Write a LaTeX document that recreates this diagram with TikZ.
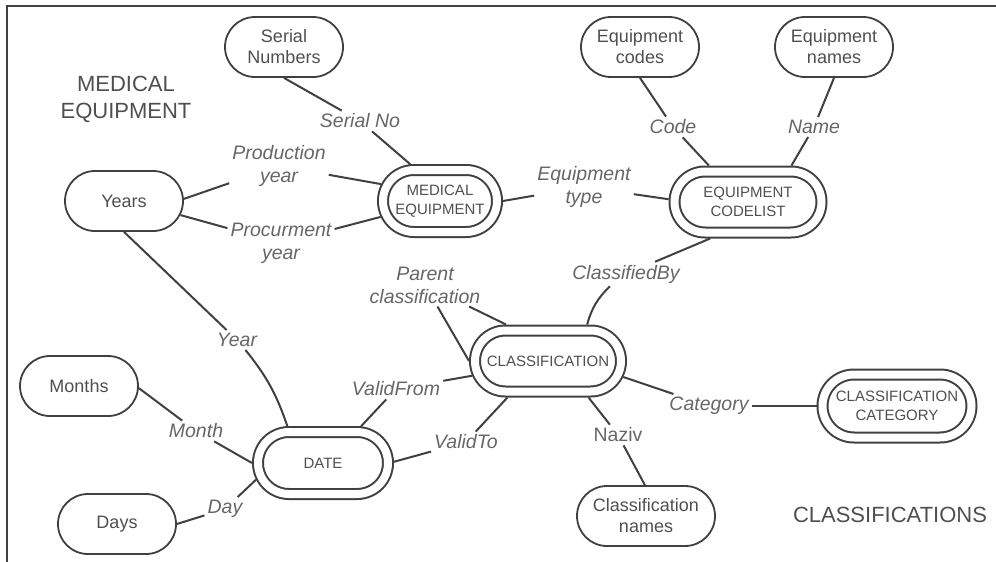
\documentclass[tikz,border=0pt]{standalone}
\usepackage{fontspec}
\setmainfont{Liberation Sans}
\usetikzlibrary{shapes.misc}

\definecolor{ink}{HTML}{404040}
\definecolor{txt}{HTML}{4F4F4F}
\definecolor{lbl}{HTML}{666666}

% a line of text that takes no width, so the node size comes from its minimum width
\newcommand\cl[1]{\makebox[0pt]{#1}}

\tikzset{
  attr/.style={rounded rectangle, draw=ink, line width=1.8pt,
    minimum width=122pt, minimum height=60pt, inner sep=2pt,
    align=center, text=txt, font=\fontsize{18}{21}\selectfont},
  entity/.style={rounded rectangle, draw=ink, line width=2pt,
    double=white, double distance=8pt, outer sep=6pt, inner sep=2pt,
    align=center, text=txt, font=\fontsize{15}{19}\selectfont},
  rel/.style={align=center, text=lbl, inner sep=3pt,
    font=\fontsize{19.5}{23}\selectfont\itshape},
  link/.style={draw=ink, line width=2pt},
  region/.style={align=center, text=txt, font=\fontsize{22}{27}\selectfont},
}

\begin{document}
\begin{tikzpicture}[x=1pt,y=-1pt]
\useasboundingbox (0,0) rectangle (996,562);

% frame
\draw[ink, line width=1.6pt] (7,562) -- (7,6) -- (996,6);

% region titles
\node[region] (t1) at (126,99) {MEDICAL\\EQUIPMENT};
\node[region] (t2) at (890,515) {CLASSIFICATIONS};

% entities
\node[entity, minimum width=118pt, minimum height=62pt] (medeq) at (440,201) {\cl{MEDICAL}\\\cl{EQUIPMENT}};
\node[entity, minimum width=151pt, minimum height=61pt] (codelist) at (748,202) {\cl{EQUIPMENT}\\\cl{CODELIST}};
\node[entity, minimum width=150pt, minimum height=61pt] (class) at (548,361) {\cl{CLASSIFICATION}};
\node[entity, minimum width=134pt, minimum height=62pt] (date) at (323,463) {\cl{DATE}};
\node[entity, minimum width=153pt, minimum height=63pt] (ccat) at (897,406) {\cl{CLASSIFICATION}\\\cl{CATEGORY}};

% value domains
\node[attr] (sn) at (284,47) {\cl{Serial}\\\cl{Numbers}};
\node[attr] (codes) at (640,47) {\cl{Equipment}\\\cl{codes}};
\node[attr] (names) at (834,47) {\cl{Equipment}\\\cl{names}};
\node[attr] (years) at (124,201) {\cl{Years}};
\node[attr] (months) at (79,386) {\cl{Months}};
\node[attr] (days) at (117,524) {\cl{Days}};
\node[attr, minimum width=142pt] (cnames) at (646,516) {\cl{Classification}\\\cl{names}};

% role labels
\node[rel] (serialno) at (360,121) {Serial No};
\node[rel] (prodyear) at (279,166) {Production\\year};
\node[rel] (procyear) at (281,243) {Procurment\\year};
\node[rel] (eqtype) at (584,187) {Equipment\\type};
\node[rel] (code) at (673,127) {Code};
\node[rel] (name) at (814,127) {Name};
\node[rel] (classby) at (626,274) {ClassifiedBy};
\node[rel] (parent) at (425,285) {Parent\\classification};
\node[rel] (year) at (237,340) {Year};
\node[rel] (month) at (196,431) {Month};
\node[rel] (day) at (225,509) {Day};
\node[rel] (vfrom) at (396,389) {ValidFrom};
\node[rel] (vto) at (466,442) {ValidTo};
\node[rel] (category) at (709,406) {Category};
\node[rel, font=\fontsize{19.5}{23}\selectfont\upshape] (naziv) at (618,435) {Naziv};

% connectors
\draw[link] (sn.south) -- (serialno);
\draw[link] (serialno) -- (medeq.129);
\draw[link] (years.2) -- (prodyear);
\draw[link] (prodyear) -- (medeq.164);
\draw[link] (years.-14) -- (procyear);
\draw[link] (procyear) -- (medeq.195);
\draw[link] (years.south) -- (year);
\draw[link] (year) to[bend left=10] (date.134);
\draw[link] (months.-2) -- (month);
\draw[link] (month) -- (date.180);
\draw[link] (days.0) -- (day);
\draw[link] (day) -- (date.194);
\draw[link] (date.44) -- (vfrom);
\draw[link] (vfrom) -- (class.191);
\draw[link] (date.1) -- (vto);
\draw[link] (vto) -- (class.222);
\draw[link] (parent) -- (class.180);
\draw[link] (parent) -- (class.139);
\draw[link] (codelist.224) -- (classby);
\draw[link] (classby) to[bend right=15] (class.43);
\draw[link] (medeq.0) -- (eqtype);
\draw[link] (eqtype) -- (codelist.178);
\draw[link] (codes.south) -- (code);
\draw[link] (code) -- (codelist.137);
\draw[link] (names.south) -- (name);
\draw[link] (name) -- (codelist.40);
\draw[link] (class.-12) -- (category);
\draw[link] (category) -- (ccat.180);
\draw[link] (class.-42) -- (naziv);
\draw[link] (naziv) -- (cnames.92);
\end{tikzpicture}
\end{document}
